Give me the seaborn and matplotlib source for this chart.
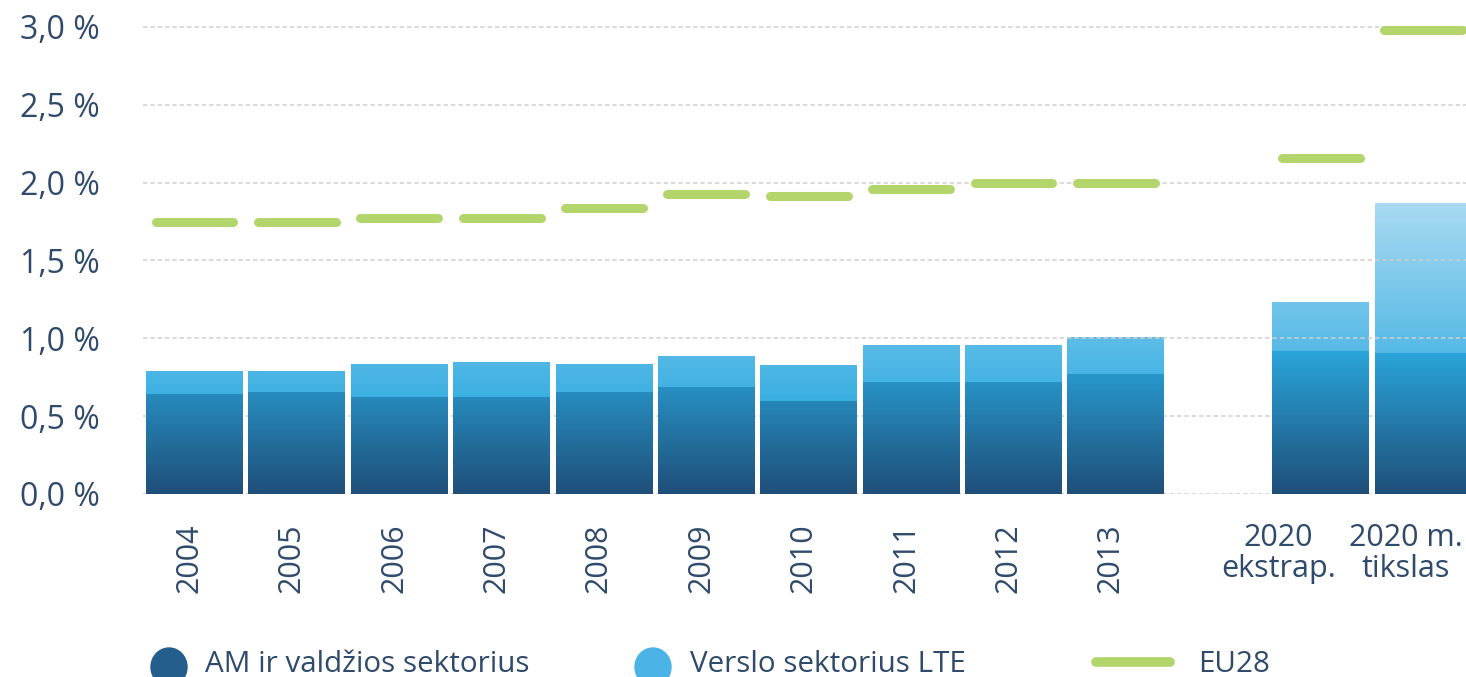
import numpy as np
import pandas as pd
import matplotlib
matplotlib.use("Agg")
import matplotlib.pyplot as plt
import seaborn as sns
from matplotlib.colors import LinearSegmentedColormap, Normalize
from matplotlib.transforms import ScaledTranslation
from matplotlib.patches import Ellipse

# ---------------- data ----------------
categories = ["2004", "2005", "2006", "2007", "2008", "2009", "2010",
              "2011", "2012", "2013", "2020\nekstrap.", "2020 m.\ntikslas"]
gov_sector = [0.64, 0.655, 0.62, 0.62, 0.655, 0.687, 0.60, 0.72, 0.72, 0.77, 0.92, 0.905]
total_rd = [0.79, 0.79, 0.835, 0.85, 0.835, 0.885, 0.83, 0.957, 0.957, 1.01, 1.233, 1.87]
eu28 = [1.747, 1.747, 1.773, 1.773, 1.837, 1.927, 1.914, 1.96, 1.998, 1.998, 2.16, 2.98]
series_labels = ["AM ir valdžios sektorius", "Verslo sektorius LTE", "EU28"]
y_ticks = [0.0, 0.5, 1.0, 1.5, 2.0, 2.5, 3.0]
y_tick_labels = ["0,0 %", "0,5 %", "1,0 %", "1,5 %", "2,0 %", "2,5 %", "3,0 %"]
gap_label = " "

# ---------------- style ----------------
sns.set_theme(style="white")
plt.rcParams["font.family"] = ["Open Sans", "DejaVu Sans"]
text_color = "#2F4A6B"
green = "#B3D56C"
dark_col = "#245E8C"
light_col = "#4BB3E5"
grid_col = "#CFCFCF"

W, H = 1466, 677
fig = plt.figure(figsize=(W / 100, H / 100), dpi=100)
ax_left, ax_bottom_px, ax_top_px = 143.3, 494, 11.4
ax = fig.add_axes([ax_left / W, (H - ax_bottom_px) / H,
                   (W - ax_left) / W, (ax_bottom_px - ax_top_px) / H])

order = categories[:10] + [gap_label] + categories[10:]
df = pd.DataFrame({"cat": categories, "total": total_rd, "gov": gov_sector})

sns.barplot(data=df, x="cat", y="total", order=order, color=light_col,
            width=0.947, saturation=1, errorbar=None, ax=ax, linewidth=0)
n_light = len(ax.patches)
sns.barplot(data=df, x="cat", y="gov", order=order, color=dark_col,
            width=0.947, saturation=1, errorbar=None, ax=ax, linewidth=0)

xlim = (-0.5, 12.42)
ylim = (0, 3.1)

# gradients
dark_cmap = LinearSegmentedColormap.from_list("dk", ["#1F4F79", "#2AA6DC"])
light_cmap = LinearSegmentedColormap.from_list("lt", ["#3AAFE2", "#ACDBF2"])
dark_norm = Normalize(0.0, 0.93)
light_norm = Normalize(0.6, 1.9)
for i, p in enumerate(ax.patches):
    is_light = i < n_light
    z = 1.0 if is_light else 2.0
    p.set_zorder(z)
    x0, y0, w, h = p.get_x(), p.get_y(), p.get_width(), p.get_height()
    if not np.isfinite(h) or h == 0:
        continue
    cmap, norm = (light_cmap, light_norm) if is_light else (dark_cmap, dark_norm)
    ys = np.linspace(y0, y0 + h, 256).reshape(-1, 1)
    img = ax.imshow(ys, cmap=cmap, norm=norm, extent=[x0, x0 + w, y0, y0 + h],
                    origin="lower", aspect="auto", interpolation="bilinear",
                    zorder=z)
    img.set_clip_path(p)
    p.set_facecolor("none")

# grid lines between light and dark bar parts
for yv in y_ticks:
    ax.axhline(yv, color=grid_col, linestyle=(0, (2.9, 1.9)), linewidth=1.1, zorder=1.5)

# EU28 segments
x_pos = np.array([order.index(c) for c in categories], dtype=float)
ax.hlines(eu28, x_pos - 0.38, x_pos + 0.38, colors=green, linewidth=6.5,
          capstyle="round", zorder=4, clip_on=False)

ax.set_xlim(*xlim)
ax.set_ylim(*ylim)

ax.set_yticks(y_ticks)
ax.set_yticklabels(y_tick_labels)
ax.grid(False)
for s in ax.spines.values():
    s.set_visible(False)

ax.set_xlabel("")
ax.set_ylabel("")
ax.tick_params(axis="y", length=0, pad=31, labelsize=23, labelcolor=text_color)
ax.tick_params(axis="x", length=0, pad=21, labelsize=22, labelcolor=text_color)

ax.set_xticks(range(len(order)))
ax.set_xticklabels([c if c != gap_label else "" for c in order])
for lbl in ax.get_xticklabels():
    t = lbl.get_text()
    if t.startswith("2020"):
        lbl.set_rotation(0)
        lbl.set_ha("center")
        lbl.set_va("top")
        lbl.set_multialignment("center")
        lbl.set_linespacing(1.05)
        dx = -42 if "ekstrap" in t else -17
        lbl.set_transform(lbl.get_transform() + ScaledTranslation(dx / 100, 0, fig.dpi_scale_trans))
    else:
        lbl.set_rotation(90)
        lbl.set_ha("center")
        lbl.set_va("top")
        lbl.set_transform(lbl.get_transform() + ScaledTranslation(-5 / 100, 0, fig.dpi_scale_trans))

# legend (figure pixel overlay)
lax = fig.add_axes([0, 0, 1, 1])
lax.set_xlim(0, W)
lax.set_ylim(H, 0)
lax.axis("off")
lax.patch.set_alpha(0)
lax.add_patch(Ellipse((169, 667), 36, 38, color=dark_col))
lax.add_patch(Ellipse((653, 667), 36, 38, color=light_col))
lax.plot([1096, 1170], [662, 662], color=green, linewidth=7, solid_capstyle="round")
lax.text(205, 664, series_labels[0], fontsize=21.3, color=text_color, va="center", ha="left")
lax.text(690, 664, series_labels[1], fontsize=21.3, color=text_color, va="center", ha="left")
lax.text(1198, 664, series_labels[2], fontsize=21.3, color=text_color, va="center", ha="left")

fig.savefig("out.png", dpi=100)
